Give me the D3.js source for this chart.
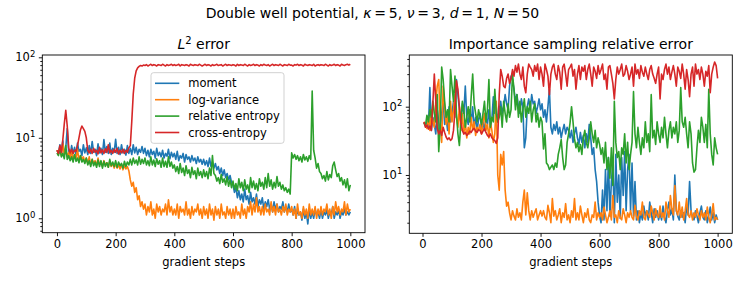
<!DOCTYPE html>
<html>
<head>
<meta charset="utf-8">
<script src="https://cdn.jsdelivr.net/npm/d3@7"></script>
<style>
  body { margin: 0; background: #fff; }
  text { font-family: "DejaVu Sans", sans-serif; fill: #000; }
</style>
</head>
<body>
<svg width="747" height="291"></svg>
<script>
// series names + matplotlib default colours
const names = ['moment', 'log-variance', 'relative entropy', 'cross-entropy'];
const colors = ['#1f77b4', '#ff7f0e', '#2ca02c', '#d62728'];
const xTicks = [0, 200, 400, 600, 800, 1000];

// L2 error, read every 5 gradient steps (0..1000), one row = 100 steps
const l2Steps = d3.range(0, 1001, 5);
const l2Moment = [
  7, 6.4, 8.2, 6.6, 9.2, 6.2, 7.5, 13, 6.5, 6, 8, 6.4, 7.6, 6.2, 8.6, 6.8, 7.2, 6, 8.2, 6.5,
  7.5, 6.2, 8, 6.4, 9, 6.6, 7.2, 6, 8.4, 6.5, 7.4, 6.2, 9.5, 6.6, 7.8, 6.4, 8.6, 6.2, 7.4, 6.6,
  9.6, 6.4, 7.6, 6.2, 8.2, 6.5, 7.2, 6.1, 8, 6.4, 7.4, 6.2, 8.2, 6.5, 7.6, 6.2, 7.2, 6.6, 7.8, 6.4,
  7.4, 6, 7, 5.8, 7.2, 6.2, 6.8, 5.6, 7.4, 6, 6.6, 5.8, 7, 5.6, 6.4, 5.9, 7.2, 5.5, 6.6, 5.8,
  6.4, 5.4, 6.8, 5.2, 6, 5.6, 6.4, 5, 6.2, 5.4, 5.8, 5, 6, 5.2, 5.6, 4.8, 5.8, 5, 5.4, 4.7,
  5.4, 4.6, 5.2, 4.4, 5.6, 4.4, 5, 4.2, 4.8, 4, 4.4, 3.6, 4.2, 3.4, 4, 3.2, 3.6, 3, 3.4, 2.8,
  2.6, 2.1, 2.4, 1.8, 2.2, 1.7, 2, 1.6, 2.3, 1.7, 1.9, 1.5, 2.1, 1.6, 1.8, 1.5, 2, 1.4, 1.7, 1.5,
  1.8, 1.3, 1.6, 1.4, 1.7, 1.3, 1.5, 1.2, 1.6, 1.3, 1.5, 1.2, 1.4, 1.3, 1.6, 1.2, 1.4, 1.2, 1.5, 1.2,
  1.3, 1.1, 1.4, 1.0, 1.3, 1.1, 1.2, 0.95, 1.3, 1.0, 1.2, 0.85, 1.3, 1.0, 1.2, 1.0, 1.3, 1.1, 1.2, 1.0,
  1.3, 1.0, 1.2, 1.1, 1.3, 1.0, 1.2, 1.1, 1.4, 1.0, 1.2, 1.1, 1.3, 1.0, 1.2, 1.1, 1.3, 1.1, 1.2, 1.1,
  1.2
];
const l2LogVar = [
  7, 6.4, 7.6, 6, 8.5, 6.2, 7, 5.8, 6.6, 5.6, 6.8, 5.4, 6.2, 5.6, 7.2, 5.2, 6, 5.4, 5.8, 5,
  5.6, 4.8, 5.8, 4.6, 5.4, 4.8, 5.2, 4.5, 5.6, 4.6, 5, 4.4, 5.2, 4.6, 4.9, 4.3, 5.1, 4.4, 4.8, 4.2,
  4.8, 4.2, 4.6, 4.1, 4.7, 4, 4.5, 4.1, 4.4, 3.9, 3, 2.5, 2.8, 2.1, 2.4, 1.7, 1.9, 1.4, 1.6, 1.3,
  1.5, 1.1, 1.4, 1.2, 1.6, 1.1, 1.3, 1.0, 1.5, 1.2, 1.4, 1.1, 1.3, 1.2, 1.5, 1.1, 1.7, 1.2, 1.4, 1.1,
  1.3, 1.1, 1.5, 1.0, 1.4, 1.2, 1.3, 1.1, 1.6, 1.1, 1.3, 1.0, 1.4, 1.1, 1.3, 1.2, 1.5, 1.1, 1.3, 1.0,
  1.4, 1.1, 1.3, 1.0, 1.5, 1.1, 1.3, 0.95, 1.4, 1.1, 1.3, 1.0, 1.5, 1.1, 1.2, 1.0, 1.4, 1.1, 1.3, 1.0,
  1.3, 1.0, 1.4, 1.1, 1.2, 1.0, 1.5, 1.1, 1.3, 1.0, 1.4, 1.2, 1.6, 1.1, 1.5, 1.2, 1.8, 1.2, 1.4, 1.1,
  1.4, 1.1, 1.5, 1.2, 1.3, 1.1, 1.6, 1.2, 1.4, 1.1, 1.5, 1.2, 1.3, 1.1, 1.4, 1.2, 1.5, 1.1, 1.3, 1.2,
  1.4, 1.1, 1.3, 1.0, 1.5, 1.1, 1.2, 1.0, 1.4, 1.1, 1.3, 1.0, 1.5, 1.1, 1.3, 1.1, 1.4, 1.0, 1.3, 1.1,
  1.4, 1.1, 1.3, 1.2, 1.5, 1.1, 1.3, 1.0, 1.4, 1.1, 1.6, 1.2, 1.4, 1.1, 1.3, 1.2, 1.6, 1.1, 1.5, 1.2,
  1.3
];
const l2RelEnt = [
  6.5, 6, 7.2, 5.8, 6.4, 5.5, 8, 5.4, 6, 5.2, 5.8, 5, 6.2, 5.1, 5.6, 4.9, 6, 5, 5.4, 4.8,
  5.6, 4.6, 5.2, 4.4, 5.4, 4.5, 5, 4.3, 5.3, 4.4, 5.2, 4.2, 5.1, 4.4, 4.9, 4.3, 5.4, 4.5, 5, 4.4,
  5.2, 4.3, 5, 4.5, 4.8, 4.2, 5.1, 4.4, 5, 4.6, 5.4, 4.6, 5.6, 4.8, 5.3, 4.6, 5.8, 4.7, 5.4, 4.8,
  5.6, 4.6, 5.2, 4.5, 5.8, 4.6, 5.3, 4.4, 5.5, 4.7, 5.2, 4.3, 5.6, 4.4, 5.1, 4.3, 5.8, 4.4, 5, 4.2,
  4.6, 3.8, 4.4, 3.6, 4.8, 3.7, 4.2, 3.4, 4.5, 3.6, 4, 3.2, 4.3, 3.5, 3.9, 3.1, 4.2, 3.4, 3.8, 3.2,
  4, 3.3, 3.8, 3.1, 4.2, 3.4, 6, 3.6, 3.4, 2.9, 3.2, 2.7, 3.5, 2.8, 3.1, 2.6, 3.3, 2.5, 3, 2.4,
  2.9, 2.3, 2.7, 2.2, 3.1, 2.4, 2.8, 2.2, 3, 2.3, 2.6, 2.1, 3.2, 2.4, 2.9, 2.3, 2.7, 2.2, 3.1, 2.5,
  2.8, 2.3, 3.2, 2.4, 3.6, 2.5, 3, 2.3, 2.8, 2.4, 3.3, 2.5, 2.8, 2.3, 2.6, 2.2, 2.4, 2.1, 2.3, 2.0,
  6.5, 5.6, 6.2, 5.4, 6, 5.2, 5.8, 5, 6.2, 5.3, 5.8, 5.1, 6, 5.4, 38, 7, 5.6, 4.2, 4.8, 3.8,
  3.6, 3.1, 3.4, 2.9, 3.8, 3, 3.5, 3.2, 4.5, 5, 4, 3.3, 3.6, 2.9, 3.2, 2.6, 3, 2.4, 3.1, 2.2,
  2.6
];
const l2CrossEnt = [
  7, 6.4, 8, 6.6, 9.5, 15, 22, 14, 7.5, 6.5, 7.2, 6.4, 7, 6.8, 8, 10, 12.5, 14, 13, 12,
  10, 7, 6.5, 7.2, 6.4, 7.4, 6.6, 7, 6.3, 7.6, 6.5, 7.1, 6.4, 7.3, 6.6, 8.2, 6.5, 7, 6.4, 7.2,
  6.6, 7.4, 6.3, 7, 6.5, 7.2, 6.4, 7, 6.6, 7.5, 8, 16, 35, 55, 68, 74, 77, 79, 78, 80,
  79, 81, 78, 80, 82, 79, 81, 80, 78, 81, 80, 79, 82, 80, 78, 81, 79, 80, 82, 79,
  81, 79, 80, 82, 78, 81, 80, 79, 81, 80, 78, 82, 80, 79, 81, 80, 79, 82, 80, 78,
  80, 82, 79, 81, 80, 78, 81, 79, 80, 82, 79, 80, 81, 78, 80, 82, 79, 81, 80, 79,
  81, 80, 78, 82, 79, 81, 80, 79, 82, 80, 78, 81, 79, 80, 82, 79, 81, 80, 78, 81,
  79, 82, 80, 79, 81, 78, 80, 82, 79, 81, 80, 79, 82, 80, 78, 81, 80, 79, 82, 80,
  80, 78, 81, 80, 82, 79, 81, 80, 78, 82, 80, 79, 81, 80, 79, 82, 78, 80, 81, 79,
  81, 80, 79, 82, 80, 78, 81, 79, 80, 82, 79, 81, 80, 78, 82, 80, 79, 81, 82, 80,
  82
];

// importance sampling relative error, read every 5 steps (5..1000)
const isSteps = d3.range(5, 1001, 5);
const isMoment = [
  58, 55, 60, 50, 190, 45, 70, 55, 40, 90,
  60, 45, 80, 120, 55, 70, 45, 100, 60, 80,
  120, 70, 250, 150, 90, 60, 110, 80, 200, 70,
  55, 90, 60, 100, 50, 70, 45, 65, 80, 50,
  60, 45, 70, 55, 90, 50, 65, 140, 80, 100,
  60, 90, 120, 80, 100, 150, 110, 90, 200, 280,
  250, 180, 120, 150, 100, 80, 130, 100, 25, 35,
  100, 130, 90, 150, 110, 120, 80, 100, 130, 90,
  110, 70, 90, 60, 100, 180, 50, 40, 55, 45,
  60, 40, 50, 35, 45, 55, 40, 50, 45, 35,
  45, 30, 40, 50, 35, 28, 42, 30, 38, 25,
  40, 30, 55, 35, 20, 25, 12, 8, 4, 2.5,
  2, 6, 2.2, 12, 3, 18, 2.5, 8, 15, 2,
  20, 4, 10, 2.3, 18, 5, 22, 3, 12, 20,
  3, 15, 2.5, 8, 2.2, 3, 2, 2.8, 2.2, 3.5,
  2.5, 3, 2.2, 4, 2.8, 2, 3.2, 2.4, 3, 2.2,
  2.8, 2.2, 3.5, 2.4, 2, 3, 4, 2.6, 3.2, 2.2,
  10, 3, 2.5, 2.2, 3, 2.4, 2.8, 2, 3.5, 2.6,
  8, 3, 2.4, 2.2, 3, 2.5, 2, 2.8, 3.5, 2.4,
  2.2, 3, 2, 2.6, 3.4, 2.2, 2.8, 2, 2.6, 2.2
];
const isLogVar = [
  60, 55, 48, 70, 45, 90, 60, 50, 120, 200,
  250, 60, 30, 200, 100, 55, 80, 40, 120, 60,
  90, 150, 70, 50, 100, 45, 80, 40, 60, 35,
  50, 40, 70, 45, 60, 38, 50, 45, 55, 40,
  60, 80, 45, 55, 35, 60, 45, 30, 40, 120,
  10, 6, 20, 14, 22, 6, 3.5, 4, 2.8, 2.2,
  3, 2.5, 2.2, 3.2, 2.4, 2.8, 2.2, 4, 6, 2.6,
  5.5, 3, 2.2, 3, 2.4, 2.8, 3.2, 2.2, 2.6, 3,
  2.5, 3, 2.4, 2.2, 3.6, 2.8, 2, 4.5, 2.5, 3,
  2.2, 2.6, 3.2, 2, 2.8, 2.4, 3.8, 2.2, 2.6, 2,
  3, 2.4, 4.5, 2.2, 2.8, 2.2, 3.5, 2.6, 2, 2.8,
  2.4, 3.2, 2.2, 2, 2.6, 2.4, 4, 2.2, 2.8, 2.4,
  2.8, 2.2, 3.4, 2.6, 2, 2.4, 3, 2.2, 5, 2.4,
  2.6, 2, 3, 2.4, 2.2, 3.2, 2.6, 2, 2.8, 2.4,
  3, 2.4, 2.2, 3.6, 2.5, 2.2, 3, 2.6, 4, 2.4,
  2.2, 3, 2.6, 2.4, 3.5, 2.8, 2.2, 3.2, 2.6, 2.4,
  3.5, 2.4, 2.8, 2.2, 4, 3, 2.4, 5, 3.2, 2.6,
  7, 3, 2.6, 4, 2.4, 3.4, 2.2, 3, 4.5, 2.6,
  2.4, 3, 2.2, 2.8, 2.4, 3.2, 2.6, 2.2, 3, 2.4,
  2.8, 2.2, 3.4, 2.4, 2, 2.6, 3.8, 2.2, 2.4, 2.2
];
const isRelEnt = [
  58, 52, 75, 60, 90, 70, 120, 80, 60, 150,
  22, 50, 380, 250, 120, 70, 90, 60, 350, 200,
  120, 280, 80, 40, 27, 60, 120, 90, 50, 70,
  100, 60, 140, 300, 110, 80, 60, 90, 70, 55,
  80, 120, 60, 90, 250, 50, 70, 60, 180, 80,
  60, 70, 100, 50, 120, 80, 60, 110, 70, 90,
  300, 180, 90, 150, 70, 120, 60, 90, 130, 70,
  100, 80, 120, 60, 90, 110, 60, 80, 50, 70,
  60, 24, 40, 15, 14, 12, 13, 14, 12, 15,
  13, 20, 25, 33, 18, 12, 14, 30, 40, 58,
  100, 60, 34, 25, 30, 22, 28, 20, 35, 45,
  30, 25, 35, 60, 40, 30, 45, 25, 35, 28,
  20, 25, 15, 30, 12, 18, 9, 25, 7, 120,
  30, 18, 22, 12, 25, 20, 40, 15, 30, 12,
  20, 30, 166, 40, 25, 50, 30, 20, 35, 25,
  60, 30, 40, 22, 150, 35, 45, 28, 60, 40,
  30, 50, 35, 70, 40, 25, 45, 60, 35, 50,
  40, 60, 30, 45, 190, 60, 50, 70, 40, 25,
  60, 40, 15, 11, 12, 25, 45, 30, 70, 50,
  30, 55, 25, 180, 40, 20, 14, 35, 25, 20
];
const isCrossEnt = [
  60, 50, 54, 47, 52, 45, 110, 300, 120, 48,
  40, 45, 38, 50, 42, 36, 33, 35, 32, 34,
  45, 90, 240, 180, 100, 60, 45, 40, 42, 38,
  40, 44, 42, 46, 48, 44, 42, 46, 45, 40,
  44, 48, 42, 38, 36, 40, 35, 33, 32, 29,
  35, 150, 350, 280, 200, 190, 260, 300, 220, 260,
  350, 280, 400, 320, 420, 300, 250, 380, 200, 160,
  300, 420, 380, 350, 280, 400, 330, 420, 250, 380,
  300, 200, 420, 350, 280, 150, 300, 380, 420, 300,
  250, 400, 320, 180, 380, 420, 300, 200, 350, 380,
  420, 280, 350, 180, 300, 400, 250, 380, 330, 400,
  250, 350, 420, 300, 200, 380, 330, 260, 400, 300,
  350, 420, 250, 300, 180, 380, 400, 300, 220, 130,
  250, 380, 300, 350, 420, 280, 300, 400, 330, 250,
  300, 380, 200, 420, 300, 350, 260, 400, 320, 280,
  380, 300, 250, 350, 400, 300, 260, 220, 300, 380,
  130, 300, 250, 350, 420, 300, 380, 250, 320, 400,
  300, 200, 380, 330, 260, 420, 300, 180, 350, 250,
  140, 300, 380, 200, 420, 300, 350, 250, 380, 300,
  200, 330, 280, 400, 160, 300, 380, 450, 400, 260
];

const svg = d3.select('svg');
const tickFont = 11.5;

function logTicks(domain) {
  const major = [], minor = [];
  for (let k = Math.floor(Math.log10(domain[0])); k <= Math.ceil(Math.log10(domain[1])); k++) {
    for (let m = 1; m < 10; m++) {
      const v = m * Math.pow(10, k);
      if (v < domain[0] || v > domain[1]) continue;
      (m === 1 ? major : minor).push(v);
    }
  }
  return { major, minor };
}

function panel(key, box, xDomain, yDomain, steps, series) {
  const x = d3.scaleLinear().domain(xDomain).range([box.left, box.right]);
  const y = d3.scaleLog().domain(yDomain).range([box.bottom, box.top]);
  const g = svg.append('g');

  g.append('clipPath').attr('id', 'clip-' + key)
    .append('rect')
    .attr('x', box.left).attr('y', box.top)
    .attr('width', box.right - box.left).attr('height', box.bottom - box.top);

  const line = d3.line().x((d, i) => x(steps[i])).y(d => y(d));

  g.append('g').attr('clip-path', `url(#clip-${key})`)
    .selectAll('path')
    .data(series)
    .enter()
    .append('path')
    .attr('d', line)
    .attr('fill', 'none')
    .attr('stroke', (d, i) => colors[i])
    .attr('stroke-width', 1.6)
    .attr('stroke-linejoin', 'round');

  // x axis
  const xAxis = g.append('g')
    .attr('transform', `translate(0,${box.bottom})`)
    .call(d3.axisBottom(x).tickValues(xTicks).tickFormat(d3.format('d')).tickSize(3.5).tickPadding(3.5));
  xAxis.select('.domain').remove();
  xAxis.selectAll('text').attr('font-size', tickFont).attr('font-family', 'DejaVu Sans');

  // y axis (log): minor + major ticks, labels as 10^k
  const t = logTicks(yDomain);
  const yMinor = g.append('g')
    .attr('transform', `translate(${box.left},0)`)
    .call(d3.axisLeft(y).tickValues(t.minor).tickSize(2).tickFormat(''));
  yMinor.select('.domain').remove();
  const yMajor = g.append('g')
    .attr('transform', `translate(${box.left},0)`)
    .call(d3.axisLeft(y).tickValues(t.major).tickSize(3.5).tickPadding(3.5));
  yMajor.select('.domain').remove();
  yMajor.selectAll('text')
    .attr('font-size', tickFont).attr('font-family', 'DejaVu Sans')
    .each(function(d) {
      const txt = d3.select(this).text('10');
      txt.append('tspan').attr('font-size', 8.5).attr('dy', '-0.55em')
        .text(Math.round(Math.log10(d)));
    });
  g.selectAll('.tick line').attr('stroke', '#000').attr('stroke-width', 0.9);

  g.append('rect')
    .attr('x', box.left).attr('y', box.top)
    .attr('width', box.right - box.left).attr('height', box.bottom - box.top)
    .attr('fill', 'none').attr('stroke', '#000').attr('stroke-width', 0.9);

  g.append('text')
    .attr('x', (box.left + box.right) / 2).attr('y', 266)
    .attr('text-anchor', 'middle').attr('font-size', tickFont)
    .text('gradient steps');

  return g;
}

const leftBox = { left: 42.3, right: 365, top: 55, bottom: 232.7 };
const rightBox = { left: 409.3, right: 732.3, top: 55, bottom: 233.3 };

const left = panel('l2', leftBox, [-50, 1050], [Math.pow(10, -0.179), Math.pow(10, 2.0286)],
  l2Steps, [l2Moment, l2LogVar, l2RelEnt, l2CrossEnt]);
const right = panel('is', rightBox, [-44.75, 1049.75], [Math.pow(10, 0.146), Math.pow(10, 2.757)],
  isSteps, [isMoment, isLogVar, isRelEnt, isCrossEnt]);

// panel titles
const lt = left.append('text')
  .attr('x', (leftBox.left + leftBox.right) / 2).attr('y', 49)
  .attr('text-anchor', 'middle').attr('font-size', 14);
lt.append('tspan').attr('font-style', 'italic').text('L');
lt.append('tspan').attr('font-size', 10).attr('dy', -5.5).text('2');
lt.append('tspan').attr('dy', 5.5).text(' error');

right.append('text')
  .attr('x', (rightBox.left + rightBox.right) / 2).attr('y', 49)
  .attr('text-anchor', 'middle').attr('font-size', 14)
  .text('Importance sampling relative error');

// figure title (thin spaces around "=" like mathtext)
const st = svg.append('text')
  .attr('x', 372.5).attr('y', 18)
  .attr('text-anchor', 'middle').attr('font-size', 14);
[['Double well potential, ', false], ['κ', true], ['\u2009=\u20095, ', false], ['ν', true], ['\u2009=\u20093, ', false],
 ['d', true], ['\u2009=\u20091, ', false], ['N', true], ['\u2009=\u200950', false]].forEach(([s, it]) => {
  st.append('tspan').attr('font-style', it ? 'italic' : 'normal').text(s);
});

// legend
const lg = left.append('g');
lg.append('rect')
  .attr('x', 151).attr('y', 72.7).attr('width', 133).attr('height', 70.6)
  .attr('rx', 2.5).attr('fill', '#fff').attr('fill-opacity', 0.8)
  .attr('stroke', '#ccc').attr('stroke-width', 0.9);
const items = lg.selectAll('.item')
  .data(names)
  .enter()
  .append('g')
  .attr('transform', (d, i) => `translate(0,${83.3 + i * 16.4})`);
items.append('line')
  .attr('x1', 155).attr('x2', 179.3)
  .attr('stroke', (d, i) => colors[i]).attr('stroke-width', 1.6);
items.append('text')
  .attr('x', 188.3).attr('dy', '0.35em').attr('font-size', tickFont)
  .text(d => d);
</script>
</body>
</html>
